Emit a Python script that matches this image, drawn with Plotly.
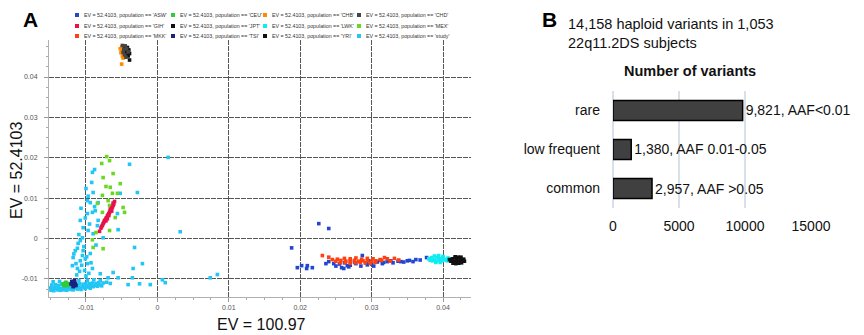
import plotly.graph_objects as go

# ---------------- Panel A data (PC coordinates) ----------------
study_x = [-0.0150,-0.0147,-0.0144,-0.0141,-0.0138,-0.0135,-0.0132,-0.0129,-0.0126,-0.0123,-0.0120,-0.0117,-0.0114,
           -0.0111,-0.0108,-0.0105,-0.0102,-0.0099,-0.0096,-0.0093,-0.0090,-0.0087,-0.0084,-0.0081,-0.0078,
           -0.0148,-0.0143,-0.0139,-0.0134,-0.0124,-0.0113,-0.0109,-0.0104,-0.0100,-0.0095,-0.0091,-0.0086,-0.0082,-0.0076,-0.0071,-0.0066,
           -0.0149,-0.0145,-0.0140,-0.0136,-0.0131,-0.0127,-0.0122,-0.0118,-0.0112,-0.0107,-0.0101,-0.0094,
           -0.0146,-0.0137,-0.0110,-0.0098,-0.0089,-0.0080,
           -0.0091,-0.0088,-0.0039,0.0015,-0.0090,-0.0094,-0.0087,-0.0091,-0.0098,-0.0083,-0.0108,-0.0104,-0.0097,-0.0090,
           -0.0105,-0.0111,-0.0115,-0.0104,-0.0094,-0.0118,-0.0108,-0.0098,-0.0119,-0.0112,-0.0091,-0.0062,-0.0080,-0.0069,
           -0.0055,-0.0035,-0.0021,-0.0032,-0.0034,-0.0041,-0.0025,-0.0010,0.0007,0.0011,0.0032,0.0074,0.0084,-0.0028,
           -0.0052,-0.0056,-0.0055,-0.0076,-0.0083,-0.0098,-0.0100,-0.0084,-0.0108,-0.0105,-0.0101,
           -0.0113,-0.0109,-0.0102,-0.0096,-0.0093,-0.0106,-0.0099,-0.0114,-0.0103,-0.0095,-0.0110,-0.0101,-0.0088,-0.0117,
           -0.0107,-0.0097,-0.0092,-0.0112,-0.0086,-0.0100]
study_y = [-0.0122,-0.0124,-0.0121,-0.0123,-0.0120,-0.0124,-0.0122,-0.0121,-0.0123,-0.0120,-0.0122,-0.0121,-0.0123,
           -0.0120,-0.0122,-0.0119,-0.0121,-0.0118,-0.0120,-0.0117,-0.0119,-0.0116,-0.0118,-0.0115,-0.0117,
           -0.0115,-0.0114,-0.0116,-0.0113,-0.0115,-0.0114,-0.0112,-0.0113,-0.0111,-0.0112,-0.0110,-0.0111,-0.0109,-0.0110,-0.0108,-0.0111,
           -0.0128,-0.0129,-0.0127,-0.0128,-0.0127,-0.0128,-0.0126,-0.0127,-0.0125,-0.0126,-0.0124,-0.0123,
           -0.0107,-0.0106,-0.0104,-0.0103,-0.0102,-0.0104,
           0.0164,0.0171,0.0184,0.0201,0.0114,0.0089,0.0069,0.0065,0.0062,0.0089,0.0045,0.0027,0.0020,0.0012,
           0.0002,-0.0012,-0.0030,-0.0030,-0.0037,-0.0047,-0.0055,-0.0062,-0.0067,-0.0074,-0.0074,-0.0084,-0.0087,-0.0097,
           -0.0097,-0.0097,-0.0062,-0.0022,-0.0074,-0.0114,-0.0112,-0.0114,-0.0102,-0.0109,0.0017,-0.0097,-0.0089,0.0114,
           0.0112,0.0062,0.0022,0.0002,0.0045,0.0094,0.0124,0.0032,-0.0005,-0.0042,-0.0050,
           -0.0090,-0.0081,-0.0079,-0.0086,-0.0060,-0.0066,-0.0045,-0.0062,-0.0020,0.0036,0.0010,0.0051,0.0079,-0.0038,
           0.0075,0.0105,0.0139,-0.0024,-0.0016,-0.0093]

chb_x = [-0.0052,-0.0050,-0.0048,-0.0046,-0.0044,-0.0042,-0.0051,-0.0047,-0.0043,-0.0049,-0.0045,-0.0041,-0.0048,-0.0044,-0.0050,-0.0050]
chb_y = [0.0470,0.0474,0.0466,0.0472,0.0462,0.0468,0.0460,0.0456,0.0457,0.0452,0.0450,0.0463,0.0447,0.0454,0.0464,0.0432]
jpt_x = [-0.0046,-0.0042,-0.0040,-0.0044,-0.0039,-0.0043,-0.0041,-0.0045,-0.0039]
jpt_y = [0.0476,0.0473,0.0467,0.0465,0.0458,0.0459,0.0452,0.0468,0.0442]
chd_x = [-0.0049,-0.0045,-0.0047,-0.0043,-0.0041,-0.0046,-0.0044,-0.0048]
chd_y = [0.0478,0.0477,0.0468,0.0470,0.0462,0.0455,0.0449,0.0461]

tsi_x = [-0.0120,-0.0118,-0.0116,-0.0119,-0.0115,-0.0117,-0.0121,-0.0114,-0.0118,-0.0116]
tsi_y = [-0.0106,-0.0110,-0.0108,-0.0114,-0.0112,-0.0117,-0.0112,-0.0116,-0.0119,-0.0104]
ceu_x = [-0.0132,-0.0129,-0.0127,-0.0130,-0.0126,-0.0128,-0.0131,-0.0125]
ceu_y = [-0.0112,-0.0110,-0.0114,-0.0117,-0.0111,-0.0108,-0.0115,-0.0116]

gih_x = [-0.0081,-0.0079,-0.0078,-0.0077,-0.0076,-0.0075,-0.0074,-0.0073,-0.0072,-0.0071,-0.0070,-0.0069,-0.0068,-0.0067,
         -0.0066,-0.0065,-0.0064,-0.0063,-0.0062,-0.0061,-0.0060,-0.0072,-0.0068,-0.0064,-0.0066,-0.0070,-0.0062]
gih_y = [0.0018,0.0026,0.0030,0.0033,0.0037,0.0040,0.0044,0.0046,0.0050,0.0052,0.0056,0.0059,0.0062,0.0065,
         0.0068,0.0071,0.0075,0.0078,0.0082,0.0086,0.0092,0.0044,0.0057,0.0068,0.0073,0.0049,0.0088]

mex_x = [-0.0071,-0.0067,-0.0078,-0.0062,-0.0076,-0.0052,-0.0066,-0.0072,-0.0063,-0.0077,-0.0069,-0.0084,
         -0.0077,-0.0048,-0.0046,-0.0074,-0.0067,-0.0086,-0.0090,-0.0076,-0.0091,-0.0059,-0.0056,-0.0067]
mex_y = [0.0203,0.0193,0.0186,0.0161,0.0151,0.0136,0.0127,0.0129,0.0112,0.0107,0.0094,0.0087,
         0.0065,0.0077,0.0065,0.0045,0.0020,0.0015,-0.0022,-0.0025,-0.0003,0.0052,0.0112,0.0082]

asw_x = [0.0226,0.0240,0.0202,0.0210,0.0209,0.0217,0.0236,0.0240,0.0247,0.0261,0.0266,0.0287,0.0294,0.0317,0.0327,
         0.0341,0.0350,0.0362,0.0377,0.0188,0.0196,
         0.0255,0.0262,0.0270,0.0278,0.0285,0.0292,0.0300,0.0308,0.0315,0.0322,0.0330,0.0337,0.0345,0.0353,0.0358,
         0.0368,0.0250,0.0258,0.0268,0.0276,0.0303,0.0312,0.0296]
asw_y = [0.0037,0.0025,-0.0067,-0.0067,-0.0074,-0.0072,-0.0062,-0.0057,-0.0062,-0.0074,-0.0067,-0.0042,-0.0065,-0.0059,-0.0055,
         -0.0057,-0.0055,-0.0052,-0.0047,-0.0023,-0.0072,
         -0.0063,-0.0060,-0.0066,-0.0062,-0.0068,-0.0060,-0.0063,-0.0058,-0.0062,-0.0057,-0.0060,-0.0056,-0.0058,-0.0054,-0.0057,
         -0.0053,-0.0068,-0.0072,-0.0070,-0.0058,-0.0068,-0.0054,-0.0055]

mkk_x = [0.0252,0.0262,0.0270,0.0278,0.0286,0.0294,0.0302,0.0312,0.0322,
         0.0250,0.0257,0.0264,0.0270,0.0276,0.0282,0.0288,0.0294,0.0300,0.0306,0.0314,0.0326,0.0338,
         0.0256,0.0263,0.0270,0.0277,0.0284,0.0291,0.0298,0.0305,
         0.0231,0.0240,0.0245,0.0318,0.0332]
mkk_y = [-0.0051,-0.0049,-0.0050,-0.0048,-0.0051,-0.0049,-0.0050,-0.0052,-0.0050,
         -0.0056,-0.0054,-0.0056,-0.0055,-0.0054,-0.0056,-0.0055,-0.0054,-0.0056,-0.0055,-0.0054,-0.0056,-0.0053,
         -0.0060,-0.0059,-0.0061,-0.0060,-0.0059,-0.0060,-0.0061,-0.0059,
         -0.0042,-0.0046,-0.0052,-0.0047,-0.0049]

lwk_x = [0.0380,0.0384,0.0388,0.0392,0.0396,0.0400,0.0404,0.0407,0.0382,0.0386,0.0390,0.0394,0.0398,0.0402,0.0406,
         0.0388,0.0394,0.0400,0.0396,0.0390]
lwk_y = [-0.0050,-0.0047,-0.0052,-0.0046,-0.0050,-0.0047,-0.0051,-0.0048,-0.0054,-0.0055,-0.0056,-0.0054,-0.0055,-0.0053,-0.0055,
         -0.0043,-0.0042,-0.0044,-0.0059,-0.0059]

yri_x = [0.0409,0.0413,0.0417,0.0421,0.0425,0.0429,0.0411,0.0415,0.0419,0.0423,0.0427,0.0430,0.0414,0.0418,0.0422,0.0426,
         0.0417,0.0421,0.0425]
yri_y = [-0.0052,-0.0050,-0.0048,-0.0048,-0.0049,-0.0051,-0.0056,-0.0057,-0.0055,-0.0056,-0.0055,-0.0056,-0.0061,-0.0062,
         -0.0061,-0.0060,-0.0045,-0.0046,-0.0046]

pop_names = ["ASW", "GIH", "MKK", "CEU", "JPT", "TSI", "CHB", "LWK", "YRI", "CHD", "MEX", "study"]
pop_colors = {"ASW": "#2146d0", "GIH": "#e8114a", "MKK": "#ff4010", "CEU": "#2fcc3a", "JPT": "#111111",
              "TSI": "#1b2282", "CHB": "#ff8a00", "LWK": "#12ecf0", "YRI": "#111111", "CHD": "#444444",
              "MEX": "#6ad822", "study": "#22c6f4"}
pop_data = {"study": (study_x, study_y), "CEU": (ceu_x, ceu_y), "TSI": (tsi_x, tsi_y), "MEX": (mex_x, mex_y),
            "GIH": (gih_x, gih_y), "JPT": (jpt_x, jpt_y), "CHD": (chd_x, chd_y), "CHB": (chb_x, chb_y),
            "ASW": (asw_x, asw_y), "MKK": (mkk_x, mkk_y), "LWK": (lwk_x, lwk_y), "YRI": (yri_x, yri_y)}
draw_order = ["study", "CEU", "MEX", "GIH", "TSI", "CHB", "JPT", "CHD", "ASW", "MKK", "LWK", "YRI"]

a_ticks = [-0.01, 0, 0.01, 0.02, 0.03, 0.04]
a_ticktext = ["-0.01", "0", "0.01", "0.02", "0.03", "0.04"]

# ---------------- Panel B data ----------------
b_categories = ["rare", "low frequent", "common"]
b_counts = [9821, 1380, 2957]
b_labels = ["9,821, AAF<0.01", "1,380, AAF 0.01-0.05", "2,957, AAF >0.05"]
b_ticks = [0, 5000, 10000, 15000]

W, H = 864, 335
def px(x):
    return x / W
def py(y):
    return 1 - y / H

fig = go.Figure()

for p in draw_order:
    xs, ys = pop_data[p]
    fig.add_trace(go.Scatter(x=xs, y=ys, mode="markers", name="EV = 52.4103, population == '%s'" % p,
                             marker=dict(symbol="square", size=3.6, color=pop_colors[p], line=dict(width=0)),
                             showlegend=False, xaxis="x", yaxis="y"))

fig.add_trace(go.Bar(y=b_categories, x=b_counts, orientation="h", text=b_labels, textposition="outside",
                     cliponaxis=False, textfont=dict(size=14, color="#111", family="Liberation Sans, Arial"),
                     marker=dict(color="#404040", line=dict(color="#000", width=1.5)),
                     showlegend=False, xaxis="x2", yaxis="y2"))

grid_col = "#555555"
fig.update_layout(
    width=W, height=H, margin=dict(l=0, r=0, t=0, b=0, autoexpand=False),
    paper_bgcolor="white", plot_bgcolor="white",
    font=dict(family="Liberation Sans, Arial", color="#111"),
    bargap=0.49,
    xaxis=dict(domain=[px(49), px(471)], range=[-0.01518, 0.04392], tickvals=a_ticks, ticktext=a_ticktext,
               showgrid=True, gridcolor=grid_col, gridwidth=1.3, griddash="5px,1px",
               zeroline=False, showline=True, linecolor="#b0b0b0", linewidth=1, automargin=False,
               ticks="outside", ticklen=4, tickcolor="#999",
               minor=dict(dtick=0.0025, ticks="outside", ticklen=2, tickcolor="#aaa", showgrid=False),
               tickfont=dict(size=7, color="#555"), anchor="y"),
    yaxis=dict(domain=[py(297), py(40)], range=[-0.01446, 0.04916], tickvals=a_ticks, ticktext=a_ticktext,
               showgrid=True, gridcolor=grid_col, gridwidth=1.3, griddash="5px,1px",
               zeroline=False, showline=True, linecolor="#b0b0b0", linewidth=1, automargin=False,
               ticks="outside", ticklen=4, tickcolor="#999",
               minor=dict(dtick=0.0025, ticks="outside", ticklen=2, tickcolor="#aaa", showgrid=False),
               tickfont=dict(size=7, color="#555"), ticklabelstandoff=5, anchor="x"),
    xaxis2=dict(domain=[px(613), px(811)], range=[0, 15000], tickvals=b_ticks, tickformat="d",
                showgrid=True, gridcolor="#d8e0eb", gridwidth=2, zeroline=True, zerolinecolor="#d8e0eb",
                zerolinewidth=2, showline=False, ticks="", ticklabelstandoff=8, automargin=False,
                tickfont=dict(size=14, color="#111"), anchor="y2"),
    yaxis2=dict(domain=[py(208), py(91)], autorange="reversed", showgrid=False, showline=False, ticks="",
                ticklabelstandoff=12, automargin=False, tickfont=dict(size=14, color="#111"), anchor="x2"),
)

# legend of panel A, drawn as small squares + text
leg_cols_x = [77, 173, 265, 359]
leg_rows_y = [15, 26, 36]
for i, p in enumerate(pop_names):
    c, r = divmod(i, 3)
    cx, cy = leg_cols_x[c], leg_rows_y[r]
    fig.add_shape(type="rect", xref="paper", yref="paper", x0=px(cx - 2), x1=px(cx + 2), y0=py(cy + 2), y1=py(cy - 2),
                  fillcolor=pop_colors[p], line=dict(width=0))
    fig.add_annotation(xref="paper", yref="paper", x=px(cx + 5), y=py(cy), xanchor="left", yanchor="middle",
                       text="EV = 52.4103, population == '%s'" % p, showarrow=False,
                       font=dict(size=5.3, color="#333"))

annots = [
    dict(x=px(30), y=py(19), text="<b>A</b>", font=dict(size=21, color="#000")),
    dict(x=px(549), y=py(19), text="<b>B</b>", font=dict(size=21, color="#000")),
    dict(x=px(16), y=py(170), text="EV = 52.4103", textangle=-90, font=dict(size=16, color="#111")),
    dict(x=px(261), y=py(324), text="EV = 100.97", font=dict(size=16, color="#111")),
    dict(x=px(690), y=py(71), text="<b>Number of variants</b>", font=dict(size=14.5, color="#111")),
]
for a in annots:
    fig.add_annotation(xref="paper", yref="paper", showarrow=False, xanchor="center", yanchor="middle", **a)
fig.add_annotation(xref="paper", yref="paper", showarrow=False, x=px(566), y=py(14), xanchor="left", yanchor="top",
                   align="left", text="14,158 haploid variants in 1,053<br>22q11.2DS subjects",
                   font=dict(size=14.5, color="#111"))

fig.write_html("out.html", config={"displayModeBar": False},
               post_script="document.body.style.margin='0px';document.body.style.overflow='hidden';")
